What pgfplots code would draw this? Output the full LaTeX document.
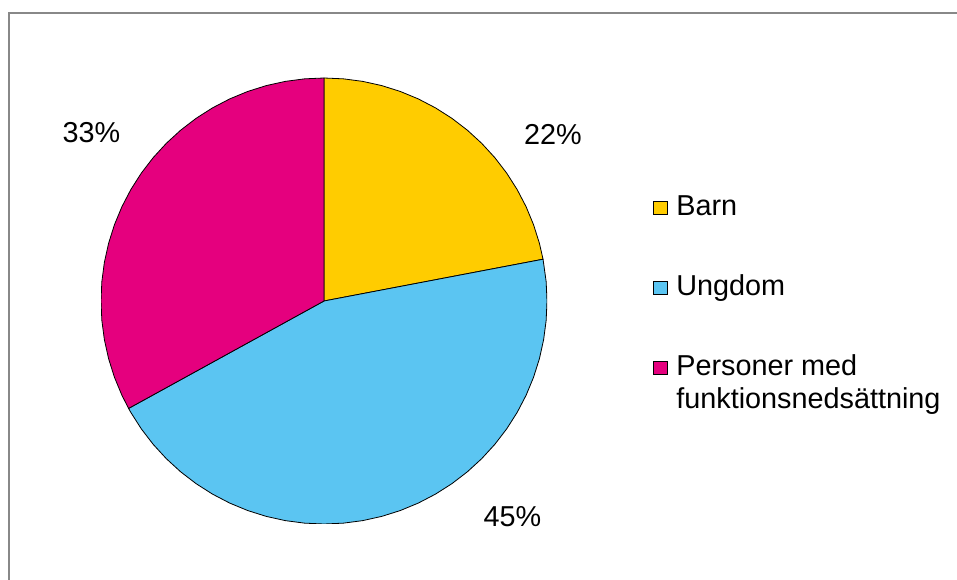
\documentclass[border=0pt]{standalone}
\usepackage{pgfplots}
\pgfplotsset{compat=1.18}
\usepackage{fontspec}
\setmainfont{Liberation Sans}

\definecolor{barn}{HTML}{FFCC00}
\definecolor{ungdom}{HTML}{5BC5F2}
\definecolor{personer}{HTML}{E5007E}
\definecolor{frame}{HTML}{888888}

\newcommand{\chartfont}{\fontsize{28.8bp}{33bp}\selectfont}

\begin{document}
\begin{tikzpicture}
\useasboundingbox (0,0) rectangle (957bp,580bp);
\clip (0,0) rectangle (957bp,580bp);
\fill[white] (0,0) rectangle (957bp,580bp);
% chart area border (only top and left edges visible)
\draw[frame, line width=2bp] (9bp,-10bp) -- (9bp,567bp) -- (980bp,567bp);

\begin{axis}[
  hide axis, scale only axis,
  width=446bp, height=446bp,
  at={(324bp,279bp)}, anchor=center,
  xmin=-1, xmax=1, ymin=-1, ymax=1,
  data cs=polar,
  legend image code/.code={\draw[#1, draw=black, line width=0.6bp] (0bp,-6.75bp) rectangle (13.5bp,6.75bp);},
  legend style={draw=none, fill=none, inner sep=0pt,
    at={(1.2377,0.7406)}, anchor=north west,
    font=\chartfont, row sep=52.6bp, column sep=9bp,
    nodes={inner sep=0pt, text height=22bp, text depth=5.4bp},
    cells={anchor=west}},
]
% Barn 22%
\addplot[fill=barn, draw=black, line width=0.8bp] coordinates {
(0,0) (90,1) (85,1) (80,1) (75,1) (70,1) (65,1) (60,1) (55,1) (50,1)
(45,1) (40,1) (35,1) (30,1) (25,1) (20,1) (15,1) (10.8,1)
} -- cycle;
\addlegendentry{Barn}
% Ungdom 45%
\addplot[fill=ungdom, draw=black, line width=0.8bp] coordinates {
(0,0) (10.8,1) (5,1) (0,1) (-5,1) (-10,1) (-15,1) (-20,1) (-25,1) (-30,1)
(-35,1) (-40,1) (-45,1) (-50,1) (-55,1) (-60,1) (-65,1) (-70,1) (-75,1)
(-80,1) (-85,1) (-90,1) (-95,1) (-100,1) (-105,1) (-110,1) (-115,1)
(-120,1) (-125,1) (-130,1) (-135,1) (-140,1) (-145,1) (-150,1) (-151.2,1)
} -- cycle;
\addlegendentry{Ungdom}
% Personer med funktionsnedsaettning 33%
\addplot[fill=personer, draw=black, line width=0.8bp] coordinates {
(0,0) (-151.2,1) (-155,1) (-160,1) (-165,1) (-170,1) (-175,1) (-180,1)
(-185,1) (-190,1) (-195,1) (-200,1) (-205,1) (-210,1) (-215,1) (-220,1)
(-225,1) (-230,1) (-235,1) (-240,1) (-245,1) (-250,1) (-255,1) (-260,1)
(-265,1) (-270,1)
} -- cycle;
\addlegendentry{\parbox[t]{300bp}{Personer med\\funktionsnedsättning}}
\end{axis}

\node[font=\chartfont, anchor=base, inner sep=0pt] at (553bp,435bp) {22\%};
\node[font=\chartfont, anchor=base, inner sep=0pt] at (512.5bp,53.3bp) {45\%};
\node[font=\chartfont, anchor=base, inner sep=0pt] at (91.5bp,437bp) {33\%};
\end{tikzpicture}
\end{document}
